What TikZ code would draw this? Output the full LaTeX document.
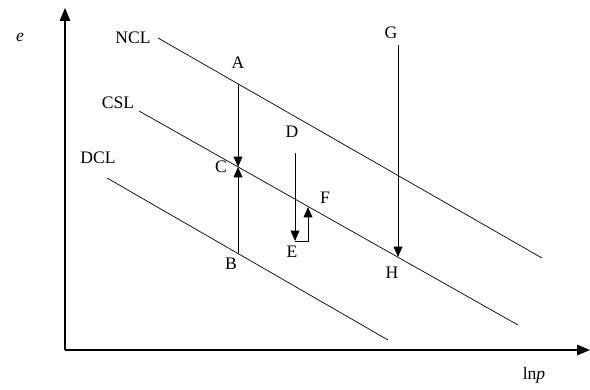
\documentclass[tikz,border=0pt]{standalone}
\usepackage{fontspec}
\setmainfont{Liberation Serif}
\usepackage{tikz}
\usetikzlibrary{arrows.meta,positioning,calc}

\begin{document}
\begin{tikzpicture}[
                x=0.025cm, y=-0.025cm,
                font=\fontsize{12.5}{14}\selectfont,
                axis/.style={-{Triangle[length=3.2mm,width=2.6mm]}, line width=0.9pt},
                cline/.style={line width=0.5pt},
                move/.style={-{Triangle[length=2.6mm,width=2.2mm]}, line width=0.7pt},
                lbl/.style={inner sep=1pt},
            ]
            \useasboundingbox (0,0) rectangle (590,389);

            % Axes
            \coordinate (O)  at (65,350);
            \coordinate (ey) at (65,8);
            \coordinate (px) at (590,350);
            \draw[axis] (O) -- (ey);
            \draw[axis] (O) -- (px);
            \node[lbl] (elbl) at (20,37) {\textit{e}};
            \node[lbl] (plbl) at (534,375) {ln\textit{p}};

            % Consolidation lines
            \coordinate (ncl1) at (158,38);  \coordinate (ncl2) at (542,258);
            \coordinate (csl1) at (139,111); \coordinate (csl2) at (518,325);
            \coordinate (dcl1) at (107,178); \coordinate (dcl2) at (388,340);
            \foreach \n in {ncl,csl,dcl}
            \draw[cline] (\n1) -- (\n2);
            \node[lbl] (ncllbl) at (133,38)  {NCL};
            \node[lbl] (csllbl) at (118,103) {CSL};
            \node[lbl] (dcllbl) at (98,158)  {DCL};

            % Stress paths
            \coordinate (A) at (238,84);
            \coordinate (C) at (238,167);
            \coordinate (B) at (238,253);
            \coordinate (D) at (295,153);
            \coordinate (E) at (295,241);
            \coordinate (F) at (308,207);
            \coordinate (G) at (398,45);
            \coordinate (H) at (398,257);
            \draw[move] (A) -- (C);
            \draw[move] (B) -- (C);
            \draw[move] (D) -- (E);
            \draw[move] (E) -| (F);
            \draw[move] (G) -- (H);

            \node[lbl] (Albl) at (238,63)  {A};
            \node[lbl] (Clbl) at (221,167) {C};
            \node[lbl] (Blbl) at (231,264) {B};
            \node[lbl] (Dlbl) at (292,132) {D};
            \node[lbl] (Elbl) at (292,252) {E};
            \node[lbl] (Flbl) at (325,198) {F};
            \node[lbl] (Glbl) at (391,33)  {G};
            \node[lbl] (Hlbl) at (392,273) {H};
        \end{tikzpicture}
\end{document}
